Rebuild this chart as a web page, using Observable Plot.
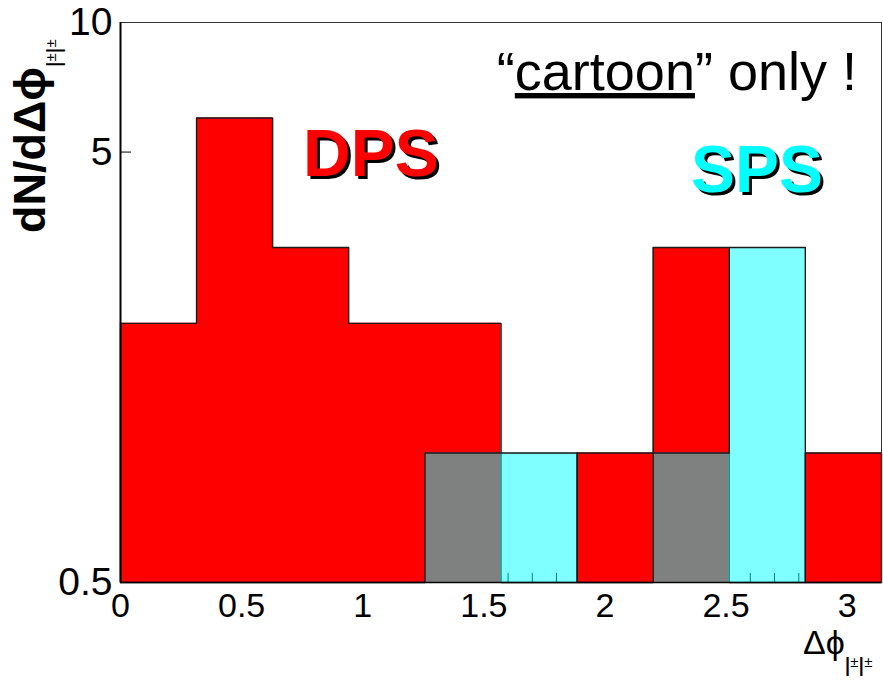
<!DOCTYPE html>
<html>
<head>
<meta charset="utf-8">
<script src="https://cdn.jsdelivr.net/npm/d3@7"></script>
<script src="https://cdn.jsdelivr.net/npm/@observablehq/plot@0.6"></script>
<style>
  html, body { margin: 0; padding: 0; background: #fff; }
  #chart { width: 883px; height: 680px; }
</style>
</head>
<body>
<div id="chart"></div>
<script>
// ---- data ----
const binEdges = [0, 0.314, 0.628, 0.942, 1.257, 1.571, 1.885, 2.199, 2.513, 2.827, 3.1416];
const dpsValues = [2, 6, 3, 2, 2, 0, 1, 3, 0, 1];
const spsValues = [0, 0, 0, 0, 1, 1, 0, 1, 3, 0];
const yDomain = [0.5, 10];
const yTicks = [0.5, 5, 10];
const yTickLabels = ["0.5", "5", "10"];
const xTicks = [0, 0.5, 1, 1.5, 2, 2.5, 3];
const xTickLabels = ["0", "0.5", "1", "1.5", "2", "2.5", "3"];
const xMinorTicks = [0.1,0.2,0.3,0.4,0.6,0.7,0.8,0.9,1.1,1.2,1.3,1.4,1.6,1.7,1.8,1.9,2.1,2.2,2.3,2.4,2.6,2.7,2.8,2.9,3.1];
const yTitle = "dN/dΔϕ";
const xTitle = "Δϕ";
const labelDPS = "DPS";
const labelSPS = "SPS";

const yMin = yDomain[0];
function stepPoints(vals) {
  const pts = [{x: binEdges[0], v: yMin}];
  vals.forEach((v, i) => pts.push({x: binEdges[i], v: v > 0 ? v : yMin}));
  const last = vals[vals.length - 1] > 0 ? vals[vals.length - 1] : yMin;
  pts.push({x: binEdges[vals.length], v: last});
  pts.push({x: binEdges[vals.length], v: yMin});
  return pts;
}
const dpsPts = stepPoints(dpsValues);
const spsPts = stepPoints(spsValues);

const plot = Plot.plot({
  width: 883,
  height: 680,
  marginLeft: 120,
  marginRight: 2,
  marginTop: 22,
  marginBottom: 98,
  x: {domain: [binEdges[0], binEdges[binEdges.length - 1]], axis: null},
  y: {type: "log", domain: yDomain, axis: null},
  style: {fontFamily: "'Liberation Sans', Arial, sans-serif", background: "#fff", color: "#000"},
  marks: [
    // inner ticks (mostly hidden by fills)
    Plot.tickX(xTicks, {x: d => d, stroke: "#000", strokeWidth: 1, insetTop: 543}),
    Plot.tickX(xMinorTicks, {x: d => d, stroke: "#000", strokeWidth: 1, insetTop: 551}),
    Plot.tickY(yTicks, {y: d => d, stroke: "#000", strokeWidth: 1, insetRight: 750}),
    // DPS histogram
    Plot.areaY(dpsPts, {x: "x", y1: yMin, y2: "v", curve: "step-after", fill: "#ff0000"}),
    Plot.line(dpsPts, {x: "x", y: "v", curve: "step-after", stroke: "#1a1a1a", strokeWidth: 1.4}),
    // SPS histogram (semi-transparent cyan hatch look)
    Plot.areaY(spsPts, {x: "x", y1: yMin, y2: "v", curve: "step-after", fill: "#00ffff", fillOpacity: 0.5}),
    Plot.line(spsPts, {x: "x", y: "v", curve: "step-after", stroke: "#1a1a1a", strokeWidth: 1.4}),
    // frame
    Plot.frame({stroke: "#333", strokeWidth: 1}),
    Plot.ruleX([binEdges[0]], {stroke: "#000", strokeWidth: 2}),
    Plot.ruleY([yMin], {stroke: "#000", strokeWidth: 1.5}),
    // axes labels
    Plot.axisX({ticks: xTicks, tickSize: 0, tickPadding: 10, fontSize: 34, label: null,
      tickFormat: d => xTickLabels[xTicks.indexOf(d)]}),
    Plot.axisY({ticks: yTicks, tickSize: 0, tickPadding: 8, fontSize: 39, label: null,
      tickFormat: d => yTickLabels[yTicks.indexOf(d)]})
  ]
});

document.getElementById("chart").appendChild(plot);

const svg = d3.select(plot);
const font = "'Liberation Sans', Arial, sans-serif";

// "cartoon" only !
const t = svg.append("text")
  .attr("x", 857).attr("y", 90)
  .attr("text-anchor", "end")
  .attr("font-family", font).attr("font-size", 54).attr("fill", "#000");
t.append("tspan").text("“");
t.append("tspan").attr("text-decoration", "underline").text("cartoon");
t.append("tspan").text("” only !");

// DPS / SPS with shadow
function shadowText(x, y, txt, color) {
  const g = svg.append("g").attr("font-family", font).attr("font-weight", "bold")
    .attr("font-size", 66).attr("text-anchor", "start");
  g.append("text").attr("x", x + 3).attr("y", y + 3).attr("fill", "#000").text(txt);
  g.append("text").attr("x", x).attr("y", y).attr("fill", color).text(txt);
}
shadowText(303, 176, labelDPS, "#ff0000");
shadowText(691, 192, labelSPS, "#00ffff");

// subscript helper (l±l±)
function addSub(textSel, size, dy) {
  const s1 = Math.round(size * 0.6);
  const up = Math.round(size * 0.35);
  textSel.append("tspan").attr("font-size", size).attr("font-weight", "normal").attr("dy", dy).text("l");
  textSel.append("tspan").attr("font-size", s1).attr("font-weight", "normal").attr("dy", -up).text("±");
  textSel.append("tspan").attr("font-size", size).attr("font-weight", "normal").attr("dy", up).text("l");
  textSel.append("tspan").attr("font-size", s1).attr("font-weight", "normal").attr("dy", -up).text("±");
}

// Y title
const yt = svg.append("text")
  .attr("transform", "translate(45,233) rotate(-90)")
  .attr("text-anchor", "start")
  .attr("font-family", font).attr("font-weight", "bold").attr("font-size", 45).attr("fill", "#000");
yt.append("tspan").text(yTitle);
addSub(yt, 25, 20);

// X title
const xt = svg.append("text")
  .attr("x", 803).attr("y", 654)
  .attr("text-anchor", "start")
  .attr("font-family", font).attr("font-size", 34).attr("fill", "#000");
xt.append("tspan").text(xTitle);
addSub(xt, 25, 22);
</script>
</body>
</html>
